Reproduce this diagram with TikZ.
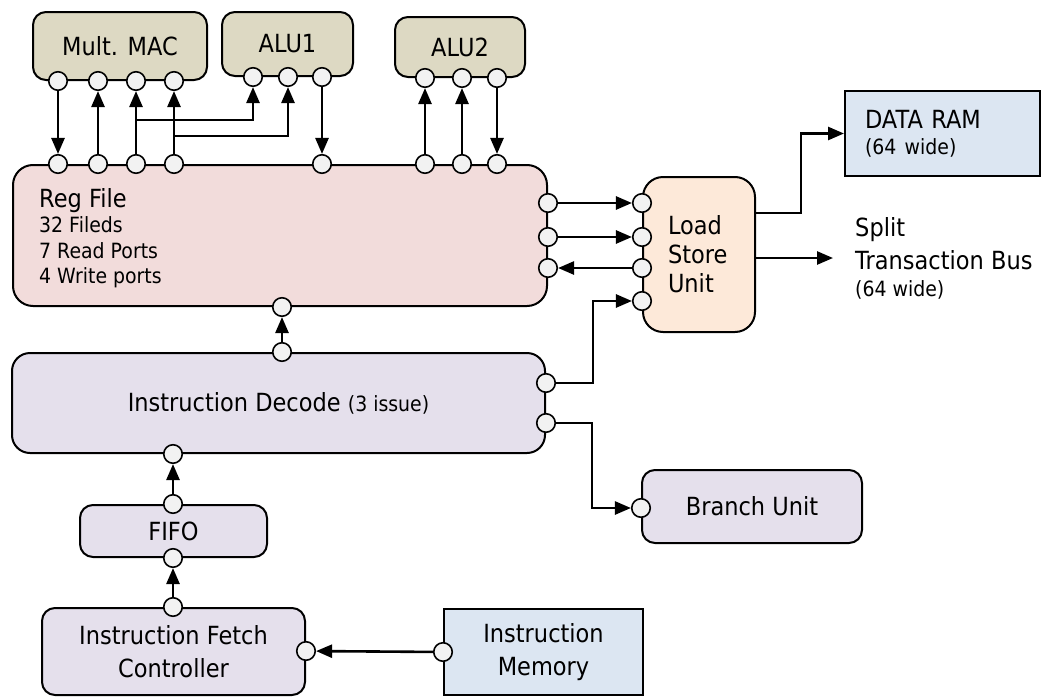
\documentclass[tikz,border=0pt]{standalone}
\usepackage{fontspec}
\setmainfont{DejaVu Sans}[FakeStretch=0.9]
\usetikzlibrary{arrows.meta}

\definecolor{unitfill}{HTML}{DDD9C3}
\definecolor{regfill}{HTML}{F2DCDB}
\definecolor{ctlfill}{HTML}{E5E0EC}
\definecolor{lsufill}{HTML}{FDE9D9}
\definecolor{memfill}{HTML}{DCE6F2}
\definecolor{portfill}{HTML}{F2F2F2}

\newcommand\bigtxt{\fontsize{25}{29}\selectfont}
\newcommand\smalltxt{\fontsize{21}{25.5}\selectfont}

\begin{document}
\begin{tikzpicture}[x=1pt,y=-1pt,
  >={Triangle[length=16pt,width=13pt]},
  blk/.style={draw,line width=2pt,rounded corners=13pt,inner sep=0pt,font=\bigtxt},
  mem/.style={draw,line width=2pt,fill=memfill,inner sep=0pt,font=\bigtxt},
  port/.style={circle,draw,line width=1.6pt,fill=portfill,minimum size=18.5pt,inner sep=0pt},
  conn/.style={line width=2.6pt,->}]
  \useasboundingbox (0,0) rectangle (1043,696);

  % functional units
  \node[blk,fill=unitfill,minimum width=174pt,minimum height=68pt] (mac) at (120,46) {Mult. MAC};
  \node[blk,fill=unitfill,minimum width=131pt,minimum height=64pt] (alua) at (287.5,44) {ALU1};
  \node[blk,fill=unitfill,minimum width=130pt,minimum height=60pt] (alub) at (460,47) {ALU2};

  \node[blk,fill=regfill,rounded corners=20pt,minimum width=534pt,minimum height=141pt] (reg)
        at (280,235.5) {};
  \node[anchor=north west,inner sep=0pt,align=left,font=\smalltxt] (regtxt)
        at ([shift={(27,24)}]reg.north west) {{\bigtxt Reg File}\\32 Fileds\\7 Read Ports\\4 Write ports};
  \node[blk,fill=lsufill,rounded corners=20pt,minimum width=112pt,minimum height=155pt,
        text width=62pt,align=left] (lsu) at (699,254.5) {Load\\Store\\Unit};
  \node[mem,minimum width=195pt,minimum height=85pt,text width=155pt,align=left] (dram)
        at (942.5,133.5) {DATA RAM\\[-3pt]{\smalltxt (64 wide)}};
  \node[anchor=west,inner xsep=22pt,inner ysep=0pt,align=left,font=\fontsize{25}{33}\selectfont] (bus)
        at (833,258) {Split\\Transaction Bus\\[-6pt]{\smalltxt (64 wide)}};

  \node[blk,fill=ctlfill,rounded corners=18pt,minimum width=533pt,minimum height=100pt] (dec)
        at (278.5,403) {Instruction Decode {\smalltxt (3 issue)}};
  \node[blk,fill=ctlfill,minimum width=220pt,minimum height=73pt] (bru) at (752,506.5) {Branch Unit};
  \node[blk,fill=ctlfill,minimum width=187pt,minimum height=52pt] (fifo) at (173.5,531) {FIFO};
  \node[blk,fill=ctlfill,minimum width=263pt,minimum height=87pt,align=center,
        font=\fontsize{25}{33}\selectfont] (fetch) at (173.5,651.5) {Instruction Fetch\\Controller};
  \node[mem,minimum width=199pt,minimum height=86pt,align=center,
        font=\fontsize{25}{33}\selectfont] (imem) at (543.5,652) {Instruction\\Memory};

  % ports
  \foreach \x [count=\i] in {58,98,136,174} \node[port] (m\i) at (\x,0 |- mac.south) {};
  \foreach \x [count=\i] in {253,288,322} \node[port] (a\i) at (\x,0 |- alua.south) {};
  \foreach \x [count=\i] in {425,462,497} \node[port] (b\i) at (\x,0 |- alub.south) {};
  \foreach \x [count=\i] in {58,98,136,174,322,425,462,497} \node[port] (r\i) at (\x,0 |- reg.north) {};
  \foreach \y [count=\i] in {203,237,268} \node[port] (rr\i) at (reg.east |- 0,\y) {};
  \foreach \y [count=\i] in {203,237,268,301} \node[port] (l\i) at (lsu.west |- 0,\y) {};
  \foreach \y [count=\i] in {383,423} \node[port] (d\i) at (dec.east |- 0,\y) {};
  \node[port] (rb) at (282,0 |- reg.south) {};
  \node[port] (dt) at (282,0 |- dec.north) {};
  \node[port] (db) at (173,0 |- dec.south) {};
  \node[port] (ft) at (173,0 |- fifo.north) {};
  \node[port] (fb) at (173,0 |- fifo.south) {};
  \node[port] (ct) at (173,0 |- fetch.north) {};
  \node[port] (cr) at (fetch.east |- 0,651) {};
  \node[port] (im) at (imem.west) {};
  \node[port] (bp) at (bru.west |- 0,508) {};

  % buses
  \path[conn]
    (m1) edge (r1)
    (r2) edge (m2)
    (r3) edge (m3)
    (r4) edge (m4)
    (a3) edge (r5)
    (r6) edge (b1)
    (r7) edge (b2)
    (b3) edge (r8)
    (rr1) edge (l1)
    (rr2) edge (l2)
    (l3) edge (rr3)
    (dt) edge (rb)
    (ft) edge (db)
    (ct) edge (fb)
    (im) edge (cr);
  \draw[conn] (r3 |- 0,120) -| (a1);
  \draw[conn] (r4 |- 0,136) -| (a2);
  \draw[conn] (d1) -- (d1 -| 593,0) |- (l4);
  \draw[conn] (d2) -- (d2 -| 592,0) |- (bp);
  \draw[conn] ([yshift=41.5pt]lsu.east) -- ++(45,0) |- (dram.west);
  \draw[conn] (lsu.east |- bus.west) -- (bus.west);
\end{tikzpicture}
\end{document}
